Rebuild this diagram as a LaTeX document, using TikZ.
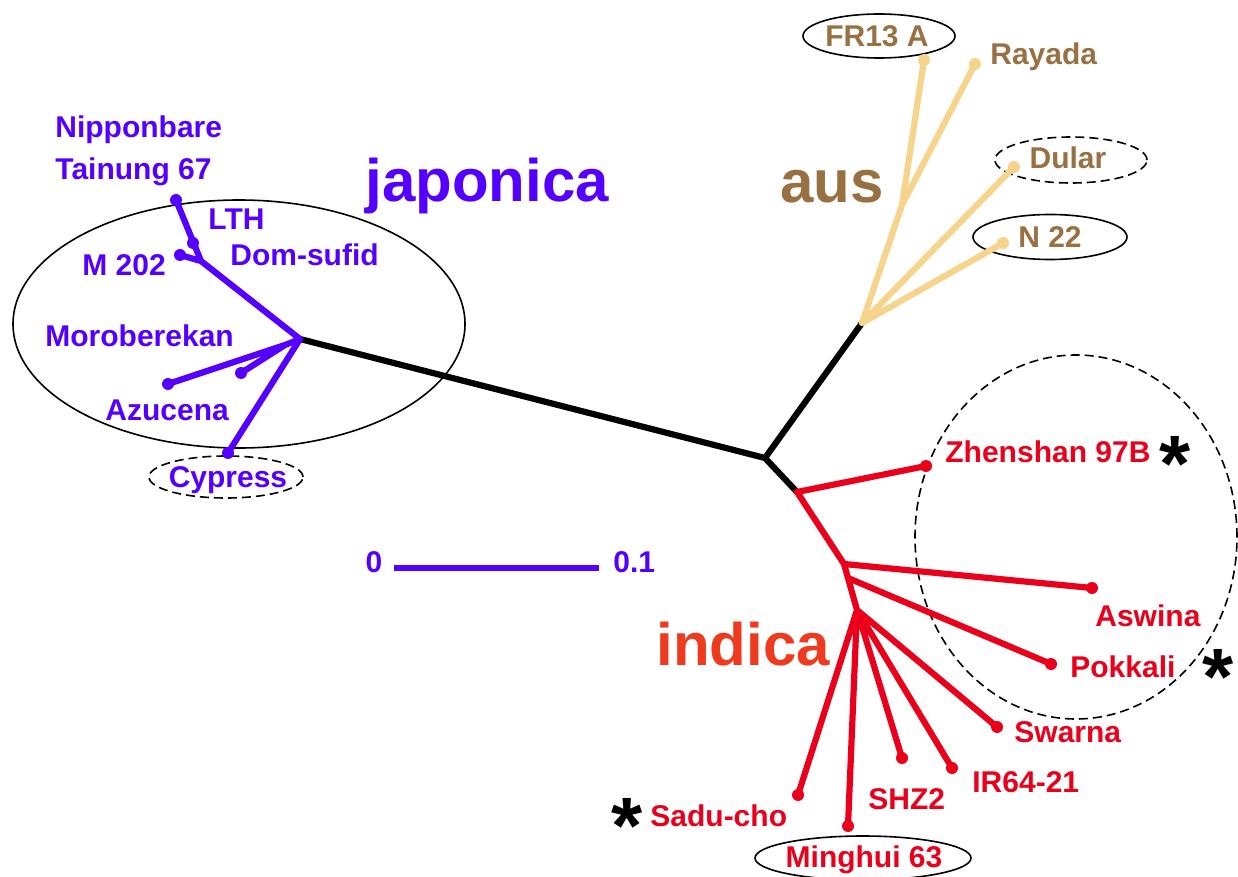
\documentclass[tikz,border=0pt]{standalone}
\usepackage{fontspec}
\setmainfont{Liberation Sans}
\usetikzlibrary{positioning,
							shapes.geometric}

\definecolor{japblue}{RGB}{85,0,255}
\definecolor{ausline}{RGB}{247,212,140}
\definecolor{austext}{RGB}{153,112,66}
\definecolor{indred}{RGB}{235,0,28}
\definecolor{indlabel}{RGB}{238,58,30}

\begin{document}
\begin{tikzpicture}[
	x=0.5pt, y=-0.5pt,
	 branch/.style = {line width=3.1pt, line cap=round, line join=round},
		trunk/.style = {branch, black},
		  jap/.style = {branch, japblue},
		  aus/.style = {branch, ausline},
		  ind/.style = {branch, indred},
		cname/.style = {font=\bfseries\fontsize{15}{15}\selectfont, inner sep=0pt,
									 text height=10.7pt, text depth=0pt},
		clade/.style = {font=\bfseries\fontsize{30}{30}\selectfont, inner sep=0pt,
									 anchor=base west},
		 oval/.style = {draw, ellipse, line width=0.8pt, inner sep=0pt},
	 dashoval/.style = {oval, dash pattern=on 4.5pt off 2.5pt},
	   marker/.style = {font=\bfseries\fontsize{40}{40}\selectfont, inner sep=0pt,
									 text height=36.5pt, text depth=0pt}
	]
\useasboundingbox (0,0) rectangle (1238,877);
% group outlines
\node [oval, minimum width=226pt, minimum height=124pt]     (japoval) at (239,324) {};
\node [dashoval, minimum width=161pt, minimum height=182pt] (indoval) at (1076,537) {};
\node [dashoval, minimum width=77pt, minimum height=21pt]   (cypoval) at (226,477) {};
\node [oval, minimum width=76pt, minimum height=22pt]       (froval)  at (879,36) {};
\node [dashoval, minimum width=76pt, minimum height=23pt]   (duloval) at (1071,160) {};
\node [oval, minimum width=77pt, minimum height=22.5pt]     (n22oval) at (1050,237) {};
\node [oval, minimum width=108pt, minimum height=22pt]      (minoval) at (863,858) {};
%
\coordinate (root) at (765,458);
\coordinate (jhub) at (300,339);
\coordinate (ahub) at (862,323);
\coordinate (i1)   at (797,492);
% japonica
\coordinate (j1)   at (201,261);
\coordinate (j2)   at (285,345);
\coordinate (tai)  at (176,200);
\coordinate (lth)  at (193,243);
\coordinate (m202) at (180,255);
\coordinate (moro) at (168,384);
\coordinate (azu)  at (241,373);
\coordinate (cyp)  at (228,453);
% aus
\coordinate (a1)   at (902,205);
\coordinate (fr)   at (924,60);
\coordinate (ray)  at (975,64);
\coordinate (dul)  at (1014,167);
\coordinate (n22)  at (1003,243);
% indica
\coordinate (i2)   at (844,564);
\coordinate (i3)   at (848,578);
\coordinate (i4)   at (857,610);
\coordinate (zhen) at (926,466);
\coordinate (asw)  at (1092,588);
\coordinate (pok)  at (1051,664);
\coordinate (swa)  at (997,727);
\coordinate (ir64) at (952,768);
\coordinate (shz)  at (902,758);
\coordinate (min)  at (848,826);
\coordinate (sadu) at (798,795);
%%
\draw [trunk] (jhub) -- (root) -- (ahub)
			  (root) -- (i1);
\draw [jap]   (jhub) -- (j1) -- (tai)
			  (j1) -- (m202)
			  (jhub) -- (j2) -- (moro)
			  (j2) -- (azu)
			  (jhub) -- (cyp);
\draw [aus]   (ahub) -- (a1) -- (fr)
			  (a1) -- (ray)
			  (ahub) -- (dul)
			  (ahub) -- (n22);
\draw [ind]   (i1) -- (zhen)
			  (i1) -- (i2) -- (asw)
			  (i2) -- (i3) -- (pok)
			  (i3) -- (i4) -- (swa)
			  (i4) -- (ir64)
			  (i4) -- (shz)
			  (i4) -- (min)
			  (i4) -- (sadu);
\foreach \t in {tai,lth,m202,moro,azu,cyp}
	\fill [japblue] (\t) circle (6);
\foreach \t in {fr,ray,dul,n22}
	\fill [ausline] (\t) circle (6);
\foreach \t in {zhen,asw,pok,swa,ir64,shz,min,sadu}
	\fill [indred] (\t) circle (6);
% names
\begin{scope}[every node/.style={cname, japblue, anchor=west}]
\node (nip)  at (55,127)  {Nipponbare};
\node (tain) at (55,169)  {Tainung 67};
\node (lthl) at (208,219) {LTH};
\node (dom)  at (230,255) {Dom-sufid};
\node (m2l)  at (82,265)  {M 202};
\node (mor)  at (45,336)  {Moroberekan};
\node (azul) at (105,410) {Azucena};
\node [anchor=center] (cypl) at (228,477) {Cypress};
\end{scope}
\begin{scope}[every node/.style={cname, austext, anchor=west}]
\node [anchor=center] (frl)  at (877,36)   {FR13 A};
\node                 (rayl) at (990,54)   {Rayada};
\node [anchor=center] (dull) at (1068,158) {Dular};
\node [anchor=center] (n22l) at (1050,237) {N 22};
\end{scope}
\begin{scope}[every node/.style={cname, indred, anchor=west}]
\node (zhl)  at (945,452)  {Zhenshan 97B};
\node (aswl) at (1095,616) {Aswina};
\node (pokl) at (1070,667) {Pokkali};
\node (swal) at (1014,732) {Swarna};
\node (irl)  at (972,782)  {IR64-21};
\node (shzl) at (868,799)  {SHZ2};
\node (sadl) at (650,816)  {Sadu-cho};
\node [anchor=center] (minl) at (864,857) {Minghui 63};
\end{scope}
\node [marker] (st1) at (1175,455) {*};
\node [marker] (st2) at (1218,668) {*};
\node [marker] (st3) at (627,817)  {*};
% clades
\node [clade, japblue]  (japl) at (365,202) {japonica};
\node [clade, austext]  (ausl) at (780,203) {aus};
\node [clade, indlabel] (indl) at (656,665) {indica};
% scale bar
\node [cname, japblue]             (zero)  at (374,562) {0};
\node [cname, japblue, anchor=west] (tenth) at (613,562) {0.1};
\coordinate (bar0) at (397,568);
\coordinate (bar1) at (596,568);
\draw [japblue, line width=3.1pt, line cap=rect] (bar0) -- (bar1);
\end{tikzpicture}
\end{document}
